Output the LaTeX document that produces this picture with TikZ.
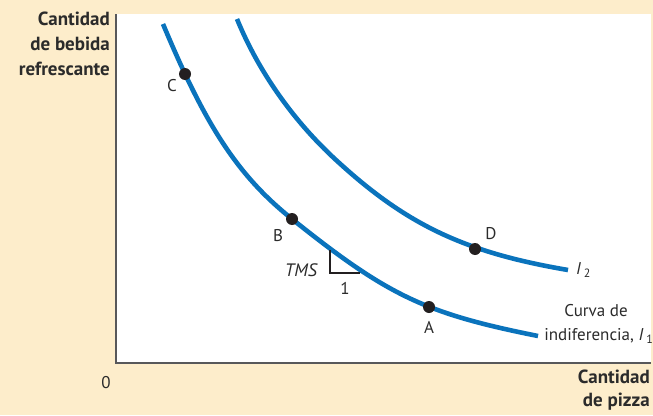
\documentclass[tikz,border=0pt]{standalone}
\usepackage{fontspec}
\setmainfont{PT Sans}
\begin{document}
\begin{tikzpicture}[x=1pt,y=-1pt,
  curve/.style={line width=4.6pt,draw=curveblue},
  dot/.style={circle,fill=dotblack,inner sep=0pt,minimum size=12pt},
  lbl/.style={font=\fontsize{17}{19}\selectfont,text=textgray,inner sep=0pt},
  axlbl/.style={font=\fontsize{19}{25}\selectfont\bfseries,text=textgray,inner sep=0pt,align=right},
  axis/.style={line width=2.4pt,draw=axisgray}]
\definecolor{bgcream}{HTML}{FDEDCB}
\definecolor{curveblue}{HTML}{0A73BC}
\definecolor{dotblack}{HTML}{231F20}
\definecolor{axisgray}{HTML}{58585A}
\definecolor{textgray}{HTML}{2B2B2B}
\useasboundingbox (0,0) rectangle (653,415);
\fill[bgcream] (0,0) rectangle (653,415);
\fill[white] (117,14) rectangle (651,362);
% axes
\coordinate (ytop) at (116,14);
\coordinate (orig) at (116,363);
\coordinate (xend) at (651,363);
\draw[axis] (ytop) -- (orig) -- (xend);
% indifference curves
\coordinate (i1s) at (163,24);
\coordinate (i1m) at (292,219);
\coordinate (i1e) at (538,336);
\draw[curve] (i1s) .. controls (206,127) and (238.3,176) .. (i1m)
  .. controls (388,295.8) and (425,313.4) .. (i1e);
\coordinate (i2s) at (237,19);
\coordinate (i2m) at (336,160);
\coordinate (i2e) at (568,270);
\draw[curve] (i2s) .. controls (258.2,70.9) and (292.8,120.3) .. (i2m)
  .. controls (406.5,224.9) and (464.5,252.4) .. (i2e);
% TMS triangle
\coordinate (t1) at (330,250);
\coordinate (t2) at (330,273);
\coordinate (t3) at (360,273);
\draw[line width=1.8pt,draw=dotblack] (t1) -- (t2) -- (t3);
% points
\node[dot] (C) at (185,74) {};
\node[dot] (B) at (292,219) {};
\node[dot] (A) at (429,307) {};
\node[dot] (D) at (475,249) {};
\node[lbl] (lC) at (172,86) {C};
\node[lbl] (lB) at (278,236) {B};
\node[lbl] (lA) at (429,327) {A};
\node[lbl] (lD) at (491,234) {D};
\node[lbl,font=\fontsize{18}{19}\selectfont\itshape] (tms) at (301,270) {TMS};
\node[lbl] (one) at (345,288) {1};
\node[lbl,anchor=west] (I2) at (576,270) {\textit{I}\,{\fontsize{12}{12}\selectfont\raisebox{-3pt}{2}}};
\node[lbl] (cv1) at (596,311) {Curva de};
\node[lbl,anchor=east] (cv2) at (653,336) {indiferencia, \textit{I}\,{\fontsize{12}{12}\selectfont\raisebox{-3pt}{1}}};
\node[lbl] (zero) at (106,383) {0};
\node[axlbl,anchor=north east] (ylab) at (110,12) {Cantidad\\de bebida\\refrescante};
\node[axlbl,anchor=north east,font=\fontsize{19}{23}\selectfont\bfseries] (xlab) at (650,370) {Cantidad\\de pizza};
\end{tikzpicture}
\end{document}
